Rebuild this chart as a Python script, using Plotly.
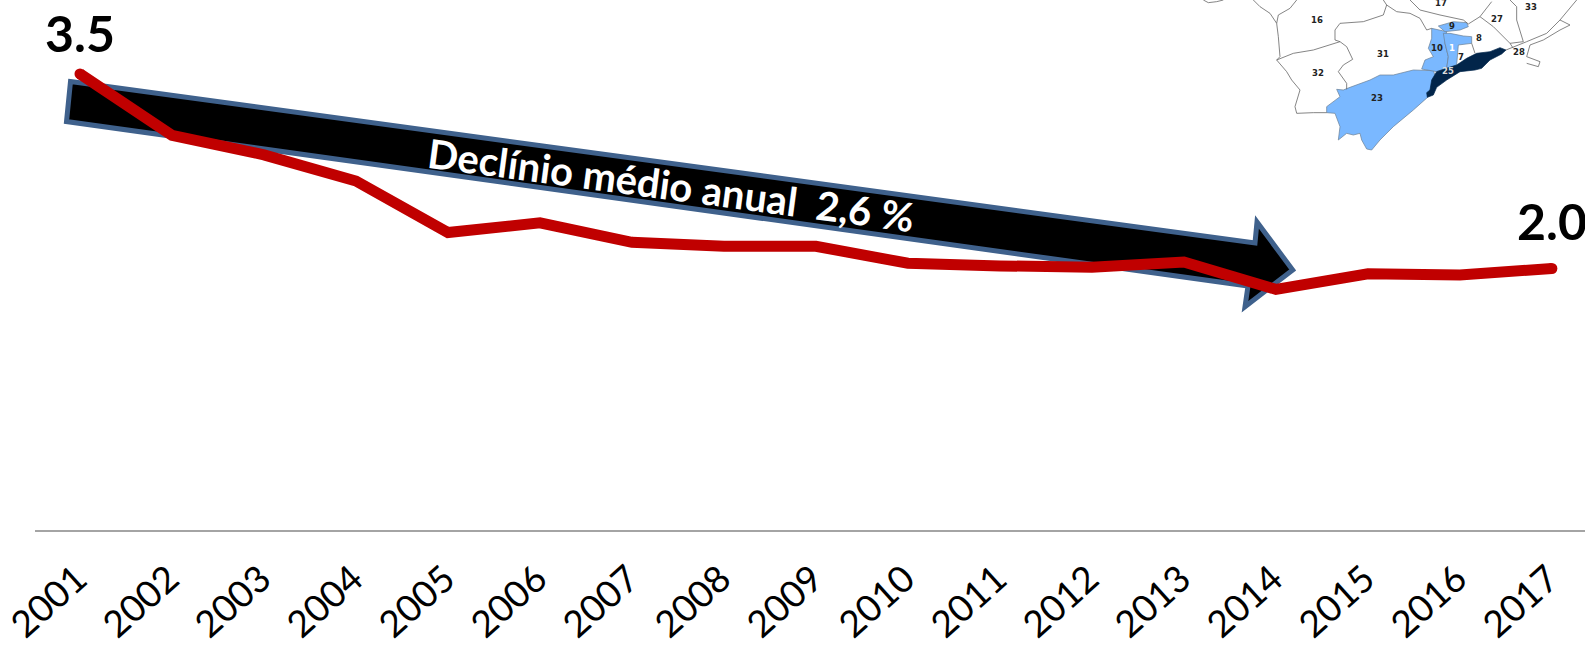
import plotly.graph_objects as go

W, H = 1585, 647
years = [str(y) for y in range(2001, 2018)]
rates = [3.5, 3.03, 2.88, 2.68, 2.285, 2.36, 2.21, 2.18, 2.18, 2.05, 2.03, 2.02, 2.06, 1.85, 1.97, 1.96, 2.01]
end_labels = ["3.5", "2.0"]
arrow_text = "Declínio médio anual  2,6 %"

arrow_px = [(70.5, 81.5), (1255, 243), (1257, 222), (1292.7, 270), (1245, 306.7), (1248, 286), (66.5, 121.5)]

map_light = [
    [(440,320),(480,290),(470,268),(490,270),(510,262),(570,240),(600,225),(640,225),(700,210),(760,212),(765,225),(750,270),(745,290),(700,330),(640,380),(600,420),(575,450),(560,447),(545,420),(540,400),(520,405),(500,400),(475,420),(480,380),(465,340),(440,338)],
    [(755,85),(800,95),(795,130),(805,170),(800,205),(770,215),(725,207),(735,180),(760,170),(745,145),(755,115)],
    [(790,100),(810,100),(850,108),(875,110),(875,130),(835,135),(830,195),(800,205),(805,170),(795,130)],
    [(775,78),(820,65),(860,68),(865,80),(840,90),(795,95)],
]
map_dark = [(750,270),(755,240),(770,215),(800,205),(830,195),(860,175),(890,160),(930,155),(960,143),(978,150),(965,162),(930,180),(905,205),(885,210),(840,215),(800,240),(770,262),(760,285),(742,292),(740,278)]
map_borders = [
    [(70,0),(85,8),(110,5),(130,0)],
    [(220,0),(240,20),(270,40),(290,70),(295,110),(300,170),(290,180)],
    [(350,0),(330,25),(295,45),(290,70)],
    [(290,180),(340,160),(400,150),(480,125),(500,140),(518,178),(490,195),(475,215),(500,250),(500,268)],
    [(290,180),(320,215),(335,240),(360,270),(345,320),(350,340),(400,338),(440,338)],
    [(480,125),(465,120),(465,90),(480,70),(550,65),(610,45),(620,15),(610,0)],
    [(620,15),(650,35),(690,40),(720,55),(740,90),(755,85)],
    [(690,0),(720,30),(780,45),(850,60),(865,72)],
    [(865,72),(900,50),(935,5)],
    [(900,50),(940,80),(990,130),(1030,125),(1010,60),(1010,20),(990,0)],
    [(875,130),(885,160)],
    [(990,130),(1000,145)],
    [(978,150),(1040,125),(1100,100),(1140,60),(1170,75),(1140,90),(1090,120),(1050,135),(1040,170),(1080,185),(1075,200),(1040,190)],
    [(1140,60),(1190,0)],
]
map_labels = [("16",410,60,"#222"),("31",610,163,"#222"),("32",413,218,"#222"),("23",591,293,"#222"),
              ("10",772,143,"#222"),("1",816,143,"#fff"),("7",843,172,"#222"),("8",897,115,"#222"),
              ("9",817,77,"#222"),("27",950,58,"#222"),("33",1052,22,"#222"),("17",783,8,"#222"),
              ("28",1016,155,"#222"),("25",803,213,"#ddd")]


def px(x, y):
    return x / W, 1 - y / H


def mp(zx, zy):
    return px(1180 + zx / 3, zy / 3)


def path(points, closed=True):
    s = "M" + " L".join(f"{x:.5f},{y:.5f}" for x, y in points)
    return s + (" Z" if closed else "")


shapes = []
for poly in map_light:
    shapes.append(dict(type="path", xref="paper", yref="paper", path=path([mp(*p) for p in poly]),
                       fillcolor="#7ab8ff", line=dict(color="#6a7f95", width=0.7), layer="below"))
shapes.append(dict(type="path", xref="paper", yref="paper", path=path([mp(*p) for p in map_dark]),
                   fillcolor="#02254a", line=dict(color="#02254a", width=0.7), layer="below"))
for line in map_borders:
    shapes.append(dict(type="path", xref="paper", yref="paper", path=path([mp(*p) for p in line], False),
                       line=dict(color="#666666", width=0.8), layer="below"))
shapes.append(dict(type="path", xref="paper", yref="paper", path=path([px(*p) for p in arrow_px]),
                   fillcolor="#000000", line=dict(color="#3f618c", width=5), layer="below"))
shapes.append(dict(type="line", xref="paper", yref="paper", x0=35 / W, x1=1, y0=(H - 531) / H, y1=(H - 531) / H,
                   line=dict(color="#868686", width=1.5), layer="below"))

annotations = [
    dict(x=671 / W, y=1 - 185 / H, xref="paper", yref="paper", xanchor="center", yanchor="middle",
         text=f"<b>{arrow_text}</b>", showarrow=False,
         textangle=7.6, font=dict(family="Lato", size=40, color="#ffffff")),
    dict(x=0, y=rates[0], xref="x", yref="y", xanchor="center", yanchor="middle", yshift=41,
         text=f"<b>{end_labels[0]}</b>", showarrow=False,
         font=dict(family="Lato", size=50, color="#000")),
    dict(x=len(years) - 1, y=rates[-1], xref="x", yref="y", xanchor="center", yanchor="middle", yshift=47,
         text=f"<b>{end_labels[1]}</b>", showarrow=False,
         font=dict(family="Lato", size=50, color="#000")),
]
for t, zx, zy, c in map_labels:
    x, y = mp(zx, zy)
    annotations.append(dict(x=x, y=y, xref="paper", yref="paper", xanchor="center", yanchor="middle",
                            text=f"<b>{t}</b>", showarrow=False,
                            font=dict(family="DejaVu Sans", size=8.5, color=c)))

fig = go.Figure(go.Scatter(x=years, y=rates, mode="lines", cliponaxis=False,
                           line=dict(color="#c00000", width=11), hoverinfo="x+y"))
fig.add_trace(go.Scatter(x=[years[0], years[-1]], y=[rates[0], rates[-1]], mode="markers", cliponaxis=False,
                         marker=dict(color="#c00000", size=11), hoverinfo="skip"))
fig.update_layout(
    width=W, height=H, margin=dict(l=0, r=0, t=0, b=0, pad=0), autosize=False, showlegend=False,
    paper_bgcolor="white", plot_bgcolor="rgba(0,0,0,0)", shapes=shapes, annotations=annotations,
    xaxis=dict(domain=[35 / W, 1], type="category", categoryorder="array", categoryarray=years,
               range=[-0.489, 16.36], showgrid=False, zeroline=False, showline=False, automargin=False,
               tickangle=-42, ticks="", tickfont=dict(family="Lato", size=37, color="#000"), ticklabelstandoff=18,
               ticklabelshift=-3, anchor="y"),
    yaxis=dict(domain=[(H - 531) / H, 1], range=[0, 531 / 130.6], visible=False, showgrid=False, zeroline=False,
               automargin=False),
)
fig.write_html("out.html", post_script="document.body.style.margin='0';", config=dict(displayModeBar=False))
